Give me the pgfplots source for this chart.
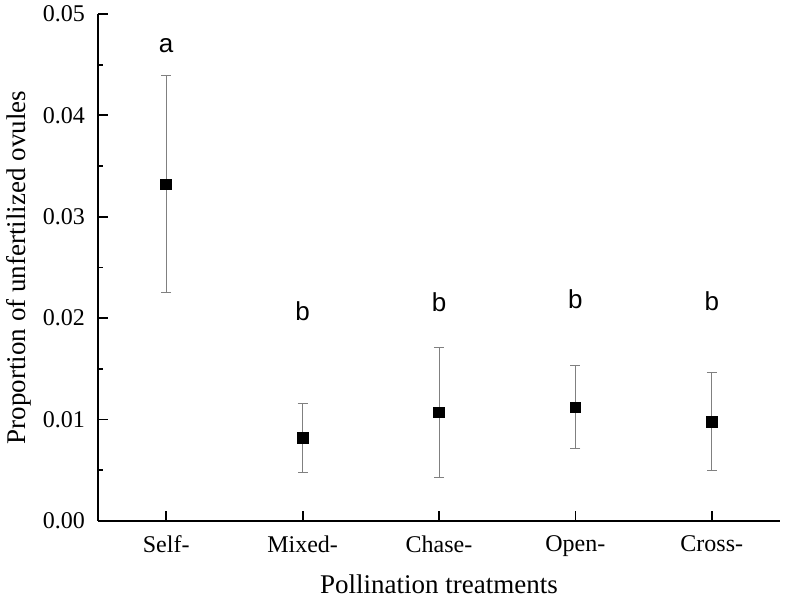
\documentclass[border=0pt]{standalone}
\usepackage{fontspec}
\setmainfont{Liberation Serif}
\newfontfamily\arialfont{Liberation Sans}
\usepackage{pgfplots}
\pgfplotsset{compat=1.18}

\pgfplotstableread{
x  y       err
0  0.0332  0.0107
1  0.0082  0.0034
2  0.0107  0.0064
3  0.0112  0.0041
4  0.0098  0.0048
}\datatable

\begin{document}
\begin{tikzpicture}
\begin{axis}[
    scale only axis,
    width=341pt, height=253.5pt,
    xmin=-0.5, xmax=4.5,
    ymin=0, ymax=0.05,
    axis x line=bottom, axis y line=left,
    axis line style={-, line width=0.9pt},
    tick align=inside,
    major tick length=5pt, minor tick length=2.5pt,
    tick style={line width=0.9pt, black},
    xtick={0,1,2,3,4},
    xticklabels={Self-, Mixed-, Chase-, Open-, Cross-},
    x tick label style={yshift=-4pt, font=\fontsize{12}{14}\selectfont},
    ytick={0,0.01,0.02,0.03,0.04,0.05},
    minor y tick num=1,
    scaled y ticks=false,
    y tick label style={xshift=-3pt, font=\fontsize{12}{14}\selectfont},
    yticklabel style={/pgf/number format/.cd, fixed, fixed zerofill, precision=2, assume math mode=true},
    xlabel={Pollination treatments},
    ylabel={Proportion of unfertilized ovules},
    label style={font=\fontsize{13.5}{15}\selectfont},
    xlabel style={yshift=-2pt},
    ylabel style={yshift=-1pt},
    clip=false,
]
\addplot[
    only marks, mark=square*, mark size=2.7pt, black,
    error bars/.cd, y dir=both, y explicit,
    error bar style={gray, line width=0.5pt},
    error mark options={rotate=90, gray, mark size=2.5pt, line width=0.5pt},
] table[x=x, y=y, y error=err] {\datatable};
\node[font=\arialfont\fontsize{13}{15}\selectfont] at (axis cs:0,0.0469) {a};
\node[font=\arialfont\fontsize{13}{15}\selectfont] at (axis cs:1,0.0207) {b};
\node[font=\arialfont\fontsize{13}{15}\selectfont] at (axis cs:2,0.0216) {b};
\node[font=\arialfont\fontsize{13}{15}\selectfont] at (axis cs:3,0.0219) {b};
\node[font=\arialfont\fontsize{13}{15}\selectfont] at (axis cs:4,0.0217) {b};
\end{axis}
\pgfresetboundingbox
\path[use as bounding box] ([xshift=-49pt,yshift=-40pt]current axis.south west) rectangle ([xshift=3.5pt,yshift=7pt]current axis.north east);
\end{tikzpicture}
\end{document}
